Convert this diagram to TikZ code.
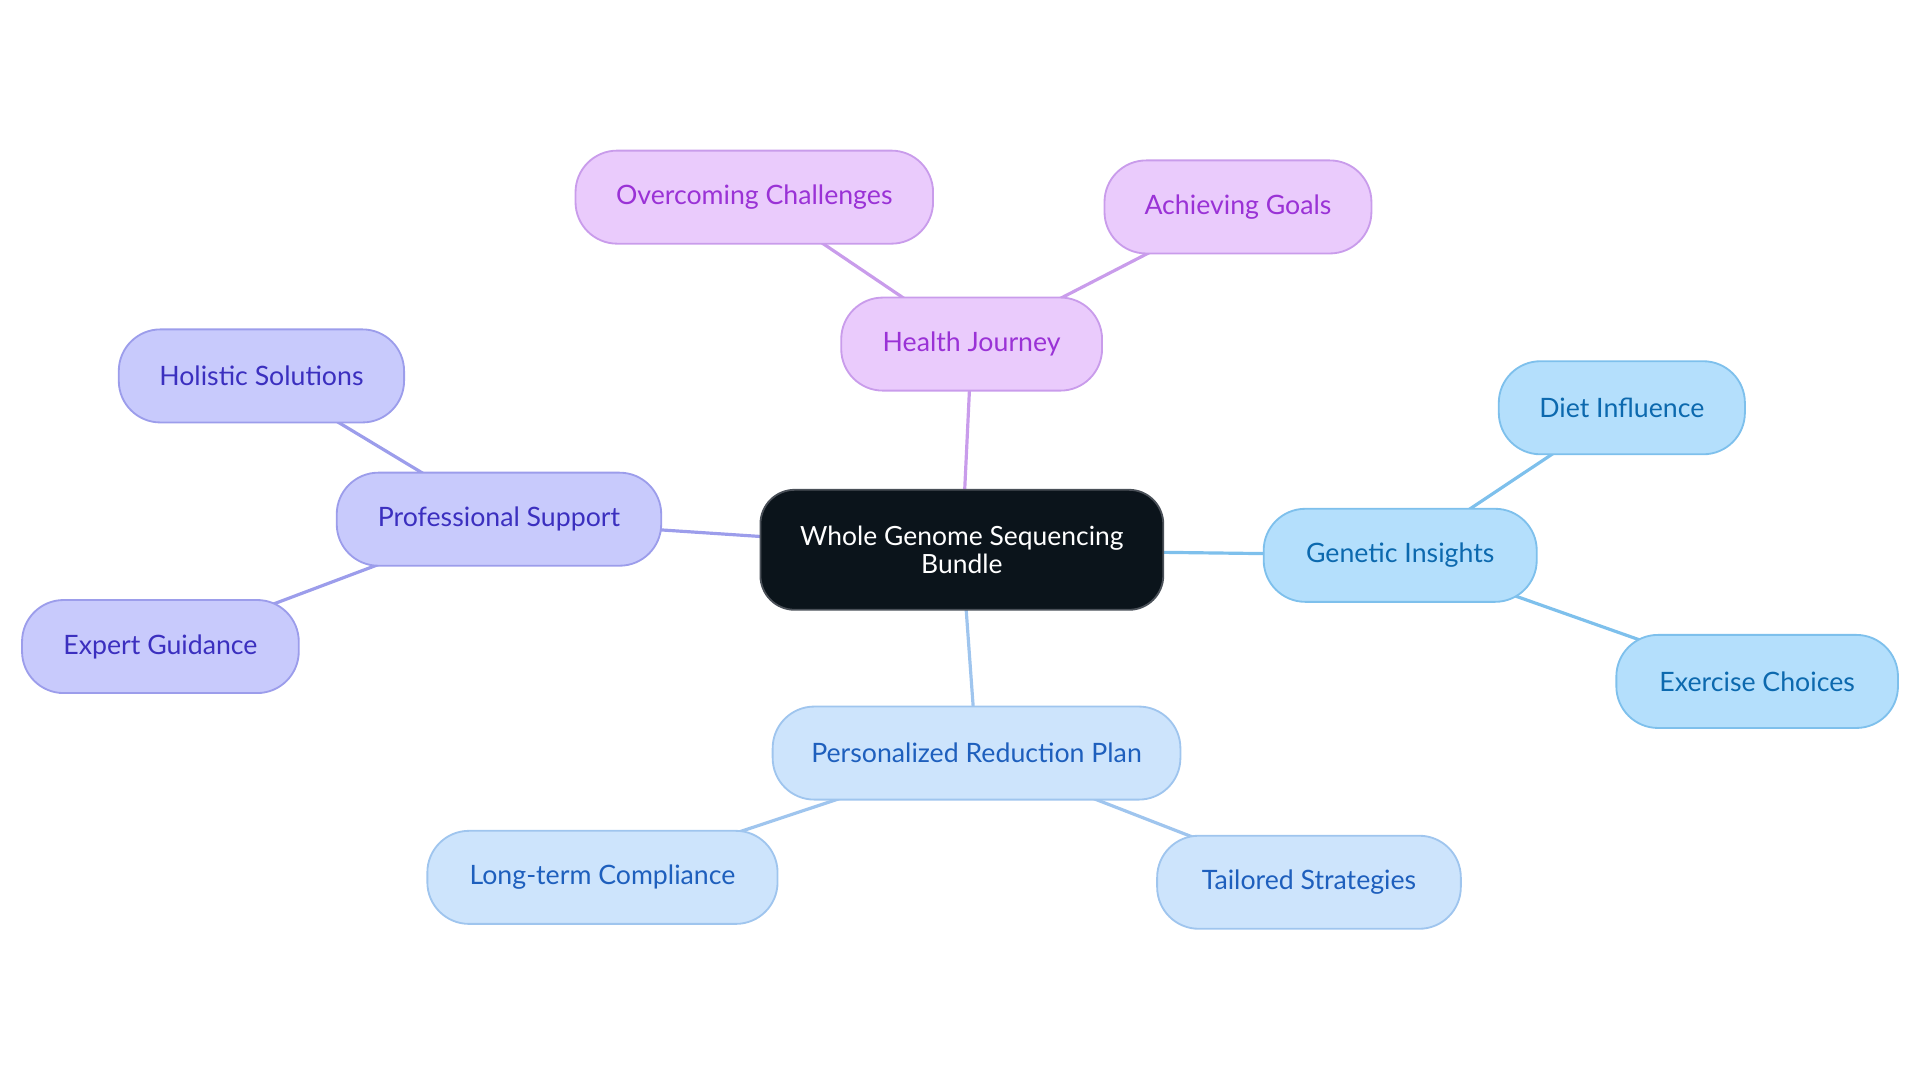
\documentclass[tikz,border=0pt]{standalone}
\usepackage{fontspec}
\setmainfont{Lato}
\usetikzlibrary{backgrounds}
\definecolor{pfill}{HTML}{EACBFC}
\definecolor{pdraw}{HTML}{C99CEB}
\definecolor{ptext}{HTML}{9A32D6}
\definecolor{ifill}{HTML}{C8CAFC}
\definecolor{idraw}{HTML}{9C9DEB}
\definecolor{itext}{HTML}{3B2FBF}
\definecolor{bfill}{HTML}{B4DFFC}
\definecolor{bdraw}{HTML}{7EC0EC}
\definecolor{btext}{HTML}{0C69AE}
\definecolor{lfill}{HTML}{CDE4FC}
\definecolor{ldraw}{HTML}{9FC5EE}
\definecolor{ltext}{HTML}{1E5FBD}
\definecolor{cfill}{HTML}{0B141B}
\definecolor{cdraw}{HTML}{4A5058}
\tikzset{
  leaf/.style={rounded corners=17pt, minimum height=38pt, inner sep=0pt, line width=0.75pt, font=\fontsize{10.9pt}{12pt}\selectfont},
  purp/.style={leaf, fill=pfill, draw=pdraw, text=ptext},
  indi/.style={leaf, fill=ifill, draw=idraw, text=itext},
  blu/.style={leaf, fill=bfill, draw=bdraw, text=btext},
  lbl/.style={leaf, fill=lfill, draw=ldraw, text=ltext},
  root/.style={rounded corners=14pt, minimum width=164.5pt, minimum height=49pt, inner sep=0pt, fill=cfill, draw=cdraw, line width=0.75pt, text=white, align=center, font=\fontsize{10.8pt}{11.5pt}\selectfont},
  pline/.style={draw=pdraw, line width=1.3pt},
  iline/.style={draw=idraw, line width=1.3pt},
  bline/.style={draw=bdraw, line width=1.3pt},
  lline/.style={draw=ldraw, line width=1.3pt}
}
\begin{document}
\begin{tikzpicture}[x=0.5pt,y=-0.5pt]
\useasboundingbox (0,0) rectangle (1568,884);
\node[root] (c) at (785.5,449) {Whole Genome Sequencing\\Bundle};
\node[purp, minimum width=106.5pt] (hj) at (793.5,281) {Health Journey};
\node[purp, minimum width=146pt] (oc) at (616,161) {Overcoming Challenges};
\node[purp, minimum width=109pt] (ag) at (1011,169) {Achieving Goals};
\node[indi, minimum width=132.5pt] (ps) at (407.5,424) {Professional Support};
\node[indi, minimum width=116.5pt] (hs) at (213.5,307) {Holistic Solutions};
\node[indi, minimum width=113pt] (eg) at (131,528) {Expert Guidance};
\node[blu, minimum width=111.5pt] (gi) at (1143.5,453.5) {Genetic Insights};
\node[blu, minimum width=100.5pt] (di) at (1324.5,333) {Diet Influence};
\node[blu, minimum width=115pt] (ec) at (1435,556.5) {Exercise Choices};
\node[lbl, minimum width=166.5pt] (pr) at (797.5,615) {Personalized Reduction Plan};
\node[lbl, minimum width=143pt] (lc) at (492,716.5) {Long-term Compliance};
\node[lbl, minimum width=124pt] (ts) at (1069,720.5) {Tailored Strategies};
\begin{scope}[on background layer]
\draw[pline] (c.center) -- (hj.center);
\draw[pline] (hj.center) -- (oc.center);
\draw[pline] (hj.center) -- (ag.center);
\draw[iline] (c.center) -- (ps.center);
\draw[iline] (ps.center) -- (hs.center);
\draw[iline] (ps.center) -- (eg.center);
\draw[bline] (c.center) -- (gi.center);
\draw[bline] (gi.center) -- (di.center);
\draw[bline] (gi.center) -- (ec.center);
\draw[lline] (c.center) -- (pr.center);
\draw[lline] (pr.center) -- (lc.center);
\draw[lline] (pr.center) -- (ts.center);
\end{scope}
\end{tikzpicture}
\end{document}
